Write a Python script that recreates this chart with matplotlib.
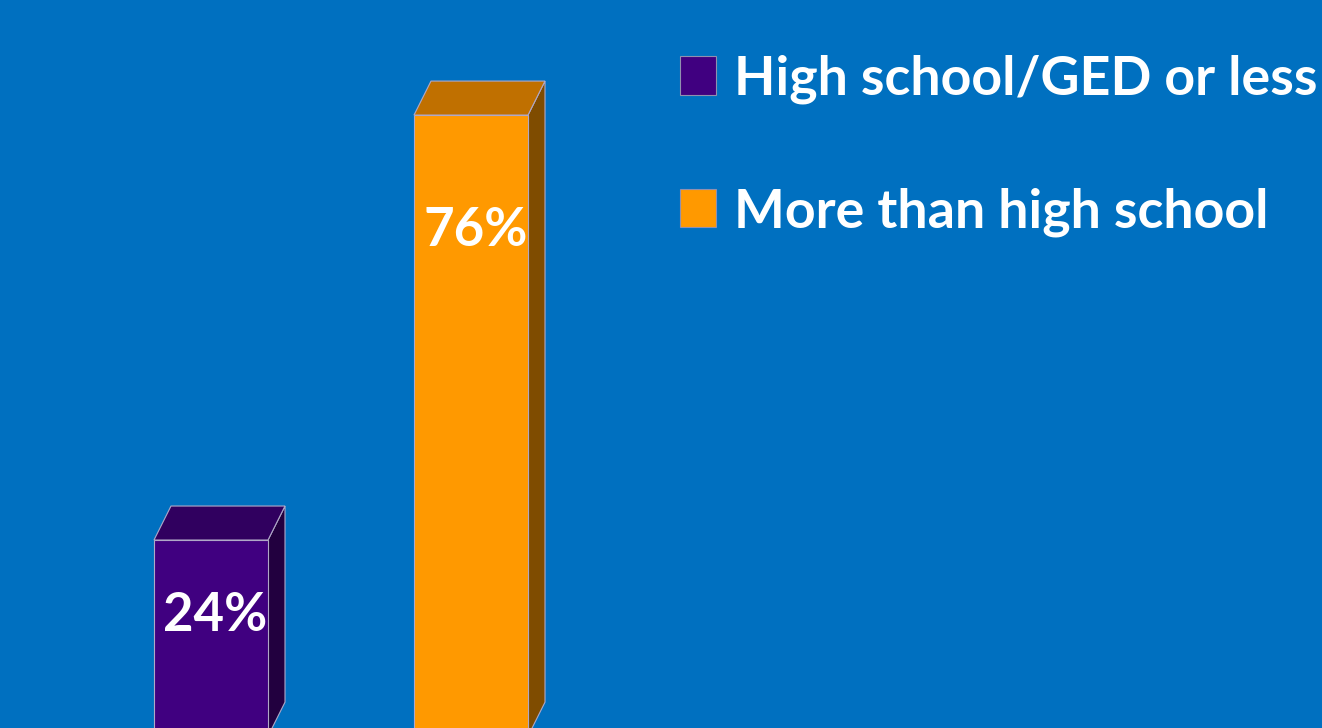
import matplotlib.pyplot as plt
from matplotlib.patches import Polygon, Patch

# data
categories = ['High school/GED or less', 'More than high school']
values = [24, 76]
labels = ['24%', '76%']

front_colors = ['#400080', '#FF9900']
top_colors = ['#30005F', '#C07000']
side_colors = ['#22003F', '#7F4C00']
bg = '#0070C0'

plt.rcParams['font.family'] = ['Lato', 'DejaVu Sans']

fig = plt.figure(figsize=(13.22, 7.28), dpi=100)
fig.patch.set_facecolor(bg)
ax = fig.add_axes([0, 0, 1, 1])
ax.set_facecolor(bg)
ax.set_xlim(-0.8115, 4.273)
ax.set_ylim(1.0, 90.08)
ax.axis('off')

width = 0.4385
dx, dy = 0.0654, 4.16   # 3d depth offset
label_y = [14.8, 61.9]

for i, v in enumerate(values):
    x0, x1 = i - width / 2, i + width / 2
    front = Polygon([(x0, 0), (x1, 0), (x1, v), (x0, v)], closed=True,
                    facecolor=front_colors[i], edgecolor='#B0A8C8', lw=0.8)
    side = Polygon([(x1, 0), (x1 + dx, dy), (x1 + dx, v + dy), (x1, v)], closed=True,
                   facecolor=side_colors[i], edgecolor='#B0A8C8', lw=0.8)
    top = Polygon([(x0, v), (x1, v), (x1 + dx, v + dy), (x0 + dx, v + dy)], closed=True,
                  facecolor=top_colors[i], edgecolor='#B0A8C8', lw=0.8)
    for p in (side, top, front):
        ax.add_patch(p)
    ax.text(i + 0.017, label_y[i], labels[i], color='white', fontsize=38,
            fontweight='bold', ha='center', va='center')

handles = [Patch(facecolor=c, edgecolor='#9090B0', lw=0.8) for c in front_colors]
leg = ax.legend(handles, categories, loc='upper left', bbox_to_anchor=(0.478, 0.992),
                frameon=False, fontsize=38.7, handlelength=0.664, handleheight=0.72,
                handletextpad=0.33, labelspacing=1.55)
for t in leg.get_texts():
    t.set_color('white')
    t.set_fontweight('bold')

fig.savefig('out.png', dpi=100, facecolor=bg)
